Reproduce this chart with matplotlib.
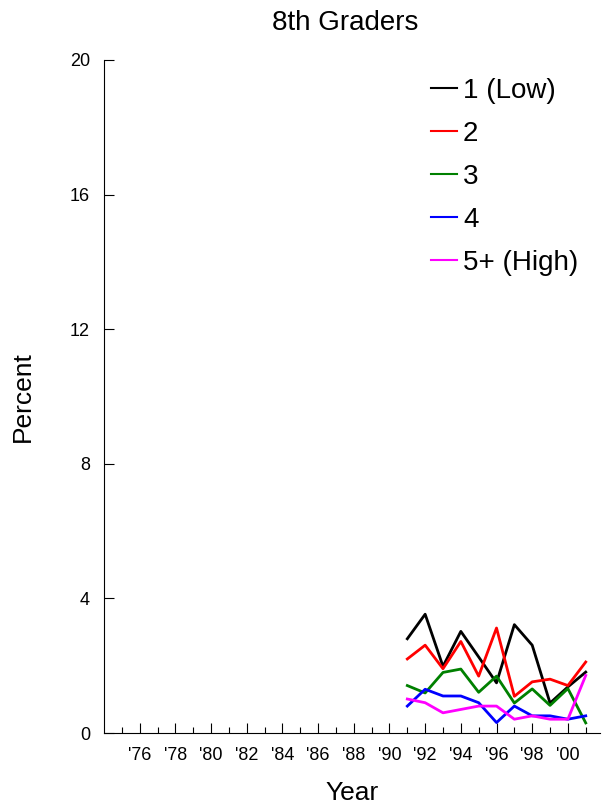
import matplotlib
matplotlib.use("Agg")
import matplotlib.pyplot as plt
import numpy as np

plt.rcParams["font.family"] = ["Liberation Sans", "DejaVu Sans"]

# Data (8th graders, percent)
years = [1991, 1992, 1993, 1994, 1995, 1996, 1997, 1998, 1999, 2000, 2001]
low_1 = [2.80, 3.53, 1.98, 3.02, 2.26, 1.49, 3.22, 2.61, 0.89, 1.37, 1.81]
grp_2 = [2.20, 2.61, 1.91, 2.72, 1.69, 3.12, 1.09, 1.52, 1.60, 1.41, 2.11]
grp_3 = [1.41, 1.19, 1.80, 1.90, 1.21, 1.69, 0.89, 1.31, 0.82, 1.32, 0.30]
grp_4 = [0.80, 1.30, 1.10, 1.10, 0.90, 0.31, 0.80, 0.51, 0.51, 0.41, 0.51]
high_5 = [1.01, 0.90, 0.60, 0.70, 0.80, 0.80, 0.41, 0.51, 0.41, 0.41, 1.71]

series = [
    ("1 (Low)", low_1, "black"),
    ("2", grp_2, "red"),
    ("3", grp_3, "green"),
    ("4", grp_4, "blue"),
    ("5+ (High)", high_5, "magenta"),
]

major_years = list(range(1976, 2001, 2))
major_labels = ["'%02d" % (y % 100) for y in major_years]

fig = plt.figure(figsize=(6.03, 8.06), dpi=100)
ax = fig.add_axes([104 / 603, 1 - 733 / 806, 496 / 603, 673 / 806])

for label, vals, color in series:
    ax.plot(years, vals, color=color, linewidth=2, label=label)

ax.set_xlim(1974, 2001.8)
ax.set_ylim(0, 20)
ax.set_yticks([0, 4, 8, 12, 16, 20])
ax.set_xticks(major_years)
ax.set_xticklabels(major_labels)
ax.set_xticks(range(1975, 2002, 2), minor=True)

ax.spines["top"].set_visible(False)
ax.spines["right"].set_visible(False)
ax.tick_params(axis="y", direction="in", length=7, width=0.8, labelsize=13, pad=10)
ax.tick_params(axis="x", which="major", direction="in", length=7, width=0.8, labelsize=13, pad=10)
ax.tick_params(axis="x", which="minor", direction="in", length=4, width=0.8)

ax.set_xlabel("Year", fontsize=19, labelpad=12)
ax.set_ylabel("Percent", fontsize=19, labelpad=25)
fig.text(345 / 603, 1 - 23 / 806, "8th Graders", fontsize=20, ha="center", va="center")

leg = ax.legend(loc="upper left", bbox_to_anchor=(431 / 603, 1 - 78 / 806),
                bbox_transform=fig.transFigure, frameon=False, fontsize=20,
                handlelength=0.95, handletextpad=0.2, labelspacing=0.61,
                borderpad=0, borderaxespad=0)
for line in leg.get_lines():
    line.set_linewidth(1.5)

fig.savefig("out.png", dpi=100)
